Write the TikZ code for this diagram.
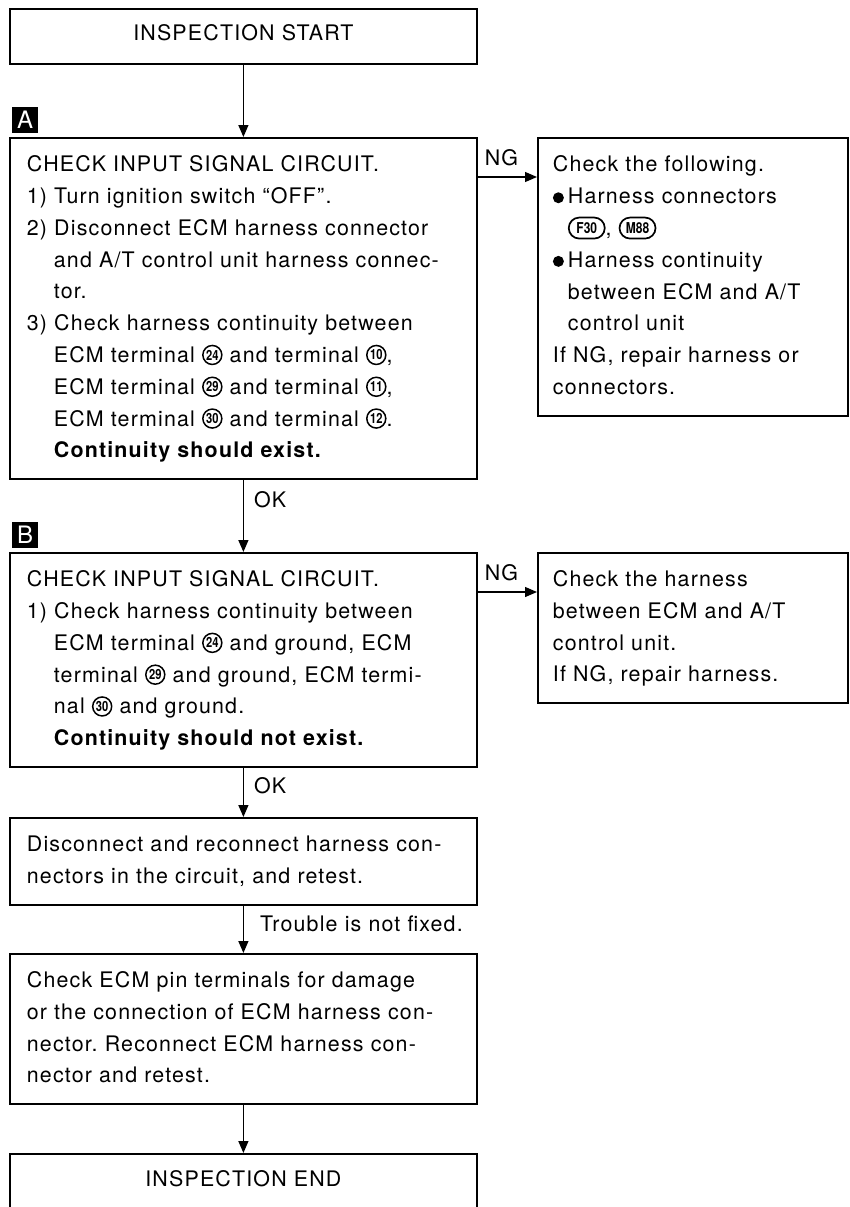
\documentclass[tikz,border=0pt]{standalone}
\usepackage{fontspec}
\setmainfont{TeX Gyre Heros}[LetterSpace=5.5]
\usepackage{tikz}
\usetikzlibrary{arrows.meta,positioning}
\frenchspacing

\tikzset{inl/.style={anchor=center, text width={}, align=center, minimum width=0pt,
  minimum height=0pt, text height={}, text depth={}}}
% circled terminal number, connector code, bullet
\newcommand{\tnum}[1]{\tikz[baseline=-7.5pt]\node[inl, circle, draw, line width=1.5pt,
  inner sep=0pt, minimum size=19pt,
  font=\bfseries\fontsize{14}{14}\selectfont\addfontfeature{FakeStretch=0.8,LetterSpace=0}] (tn) {#1};}
\newcommand{\conn}[1]{\tikz[baseline=-7.5pt]\node[inl, rectangle, draw, line width=1.7pt,
  rounded corners=10.5pt, minimum height=21pt, minimum width=36pt, inner xsep=4pt,
  inner ysep=0pt, font=\bfseries\fontsize{15}{15}\selectfont\addfontfeature{FakeStretch=0.8,LetterSpace=0}] (cn) {#1};}
\newcommand{\blt}{\makebox[15pt][l]{\tikz[baseline=-6pt]\fill (0,0) circle (5.5pt);}}
\newcommand{\indt}{\hspace*{27pt}}
\newcommand{\indr}{\hspace*{15pt}}

\begin{document}
\begin{tikzpicture}[x=1pt, y=-1pt,
  box/.style={rectangle, draw=black, line width=1.8pt, anchor=north west,
    text width=433pt, inner xsep=17pt, inner ysep=0pt, align=left,
    font=\fontsize{21.4}{31.8}\selectfont},
  sidebox/.style={box, text width=280pt, inner xsep=15pt},
  tagbox/.style={rectangle, fill=black, text=white, anchor=south west,
    minimum size=26pt, inner sep=0pt, font=\fontsize{24}{24}\selectfont},
  arrow/.style={-{Triangle[length=12pt, width=10pt]}, line width=1.3pt},
  lbl/.style={inner sep=0pt, font=\fontsize{21.4}{31.8}\selectfont},
]
\useasboundingbox (0,0) rectangle (849,1207);

%% ── Main column ──
\node[box, minimum height=55pt, align=center, text depth=7pt] (start) at (9,8) {INSPECTION START};
\node[box, minimum height=341pt] (chkA) at (9,137) {\strut CHECK INPUT SIGNAL CIRCUIT.\\
  1) Turn ignition switch ``OFF''.\\
  2) Disconnect ECM harness connector\\
  \indt and A/T control unit harness connec-\\
  \indt tor.\\
  3) Check harness continuity between\\
  \indt ECM terminal \tnum{24} and terminal \tnum{10},\\
  \indt ECM terminal \tnum{29} and terminal \tnum{11},\\
  \indt ECM terminal \tnum{30} and terminal \tnum{12}.\\
  \indt\textbf{Continuity should exist.}\strut};
\node[box, minimum height=214pt] (chkB) at (9,552) {\strut CHECK INPUT SIGNAL CIRCUIT.\\
  1) Check harness continuity between\\
  \indt ECM terminal \tnum{24} and ground, ECM\\
  \indt terminal \tnum{29} and ground, ECM termi-\\
  \indt nal \tnum{30} and ground.\\
  \indt\textbf{Continuity should not exist.}\strut};
\node[box, minimum height=87pt] (retest) at (9,817) {\strut Disconnect and reconnect harness con-\\
  nectors in the circuit, and retest.\strut};
\node[box, minimum height=150pt] (pins) at (9,953) {\strut Check ECM pin terminals for damage\\
  or the connection of ECM harness con-\\
  nector. Reconnect ECM harness con-\\
  nector and retest.\strut};
\node[box, minimum height=72pt, align=center, text depth=22pt] (end) at (9,1153) {INSPECTION END};

%% ── NG column ──
\node[sidebox, minimum height=278pt] (ngA) at (537,137) {\strut Check the following.\\
  \blt Harness connectors\\
  \indr\conn{F30}, \conn{M88}\\
  \blt Harness continuity\\
  \indr between ECM and A/T\\
  \indr control unit\\
  If NG, repair harness or\\
  connectors.\strut};
\node[sidebox, minimum height=150pt] (ngB) at (537,552) {\strut Check the harness\\
  between ECM and A/T\\
  control unit.\\
  If NG, repair harness.\strut};

%% ── Step tags ──
\node[tagbox] (tagA) at (12,133) {A};
\node[tagbox] (tagB) at (12,548) {B};

%% ── Arrows ──
\draw[arrow] (start) -- (chkA);
\draw[arrow] (chkA) -- node[lbl, pos=0.27, anchor=west, xshift=10pt] {OK} (chkB);
\draw[arrow] (chkB) -- node[lbl, pos=0.37, anchor=west, xshift=10pt] {OK} (retest);
\draw[arrow] (retest) -- node[lbl, pos=0.39, anchor=west, xshift=16pt] {Trouble is not fixed.} (pins);
\draw[arrow] (pins) -- (end);
%% NG branches
\draw[arrow] ([yshift=-40pt]chkA.north east) -- node[lbl, above=10pt, xshift=-6pt] {NG} ([yshift=-40pt]ngA.north west);
\draw[arrow] ([yshift=-40pt]chkB.north east) -- node[lbl, above=10pt, xshift=-6pt] {NG} ([yshift=-40pt]ngB.north west);
\end{tikzpicture}
\end{document}
